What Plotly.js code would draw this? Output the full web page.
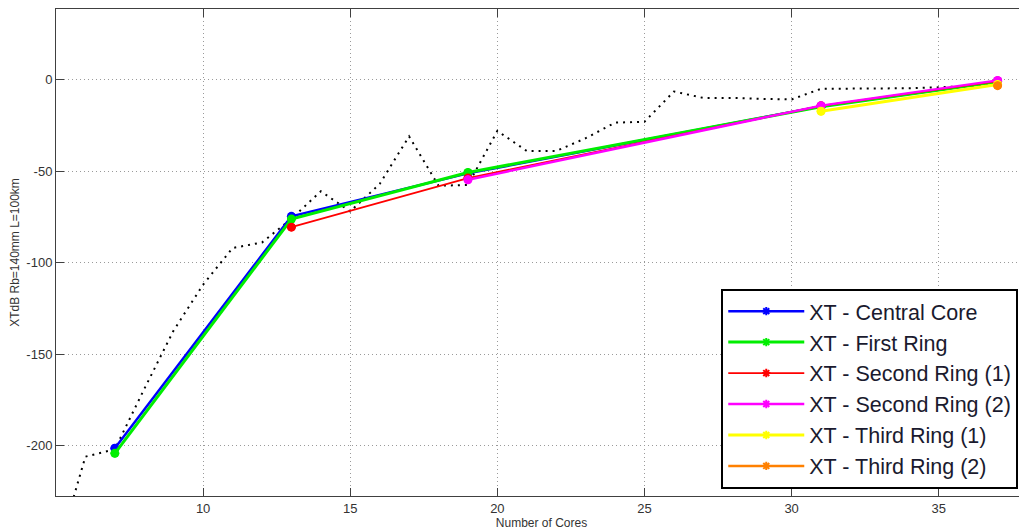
<!DOCTYPE html>
<html>
<head>
<meta charset="utf-8">
<script src="https://cdn.plot.ly/plotly-3.0.1.min.js"></script>
<style>
html, body { margin: 0; padding: 0; overflow: hidden; background: #fff; }
#chart { width: 1027px; height: 530px; }
</style>
</head>
<body>
<div id="chart"></div>
<script>
// ---- data ----
const seriesNames = ["XT - Central Core", "XT - First Ring", "XT - Second Ring (1)", "XT - Second Ring (2)", "XT - Third Ring (1)", "XT - Third Ring (2)"];
const centralX = [7, 13, 19, 31, 37];
const centralY = [-201.4, -74.7, -51.2, -14.6, -1.0];
const firstX = [7, 13, 19, 31, 37];
const firstY = [-204.2, -76.2, -50.7, -14.8, -1.2];
const second1X = [13, 19, 31, 37];
const second1Y = [-80.6, -53.8, -14.3, -0.8];
const second2X = [19, 31, 37];
const second2Y = [-54.7, -14.2, -0.4];
const third1X = [31, 37];
const third1Y = [-17.3, -2.6];
const third2X = [37];
const third2Y = [-3.3];
const refX = [5, 6, 7, 8, 9, 10, 11, 12, 13, 14, 15, 16, 17, 18, 19, 20, 21, 22, 23, 24, 25, 26, 27, 28, 29, 30, 31, 32, 33, 34, 35, 36, 37];
const refY = [-261, -206, -202, -169, -137, -112, -92, -89, -76, -61, -72, -57, -31, -58, -57.5, -28, -39, -39, -32, -23.5, -23, -6.5, -10, -10, -10.5, -10.8, -5, -5, -5, -4.7, -4.2, -3.5, -2.7];
const xTicks = [10, 15, 20, 25, 30, 35];
const yTicks = [-200, -150, -100, -50, 0];

const colors = ["#0000ff", "#00ee00", "#ff0000", "#ff00ff", "#ffff00", "#ff8000"];
const widths = [2.5, 3, 1.8, 2.5, 3, 2.5];
const xs = [centralX, firstX, second1X, second2X, third1X, third2X];
const ys = [centralY, firstY, second1Y, second2Y, third1Y, third2Y];

const traces = [];
traces.push({
  x: refX, y: refY, mode: "lines", showlegend: false, hoverinfo: "skip",
  line: { color: "#000", width: 2, dash: "2px,5px" }
});
for (let i = 0; i < seriesNames.length; i++) {
  traces.push({
    x: xs[i], y: ys[i], mode: "markers", showlegend: false,
    marker: { symbol: "circle", size: 9, color: colors[i] }
  });
  traces.push({
    x: xs[i], y: ys[i], mode: "lines+markers", name: seriesNames[i],
    line: { color: colors[i], width: widths[i] },
    marker: { symbol: "asterisk-open", size: 7, line: { color: colors[i], width: 2 } }
  });
}

const axisCommon = {
  showline: true, linecolor: "#404040", linewidth: 1, mirror: "ticks",
  ticks: "inside", ticklen: 8, tickcolor: "#404040", tickwidth: 1,
  showgrid: true, gridcolor: "#9a9a9a", griddash: "1px,3px", gridwidth: 1,
  zeroline: false,
  tickfont: { family: "Liberation Sans, Arial, sans-serif", size: 13, color: "#333" }
};

const layout = {
  width: 1027, height: 530,
  margin: { l: 56, r: 0, t: 9, b: 34 },
  paper_bgcolor: "#fff", plot_bgcolor: "#fff",
  xaxis: Object.assign({}, axisCommon, {
    range: [5, 38], tickvals: xTicks, ticktext: xTicks.map(String),
    title: { text: "Number of Cores", font: { family: "Liberation Sans, Arial, sans-serif", size: 12, color: "#333" }, standoff: 2 }
  }),
  yaxis: Object.assign({}, axisCommon, {
    range: [-227.5, 38.6], tickvals: yTicks, ticktext: yTicks.map(String),
    title: { text: "XTdB Rb=140mm L=100km", font: { family: "Liberation Sans, Arial, sans-serif", size: 12, color: "#333" }, standoff: 4 }
  }),
  legend: {
    x: 0.991, y: 0.015, xanchor: "right", yanchor: "bottom",
    bgcolor: "#fff", bordercolor: "#000", borderwidth: 2,
    font: { family: "Liberation Sans, Arial, sans-serif", size: 21.5, color: "#1a1a2e" },
    itemwidth: 76, tracegroupgap: 0
  },
  showlegend: true
};

Plotly.newPlot("chart", traces, layout, { displayModeBar: false, staticPlot: true });
</script>
</body>
</html>
